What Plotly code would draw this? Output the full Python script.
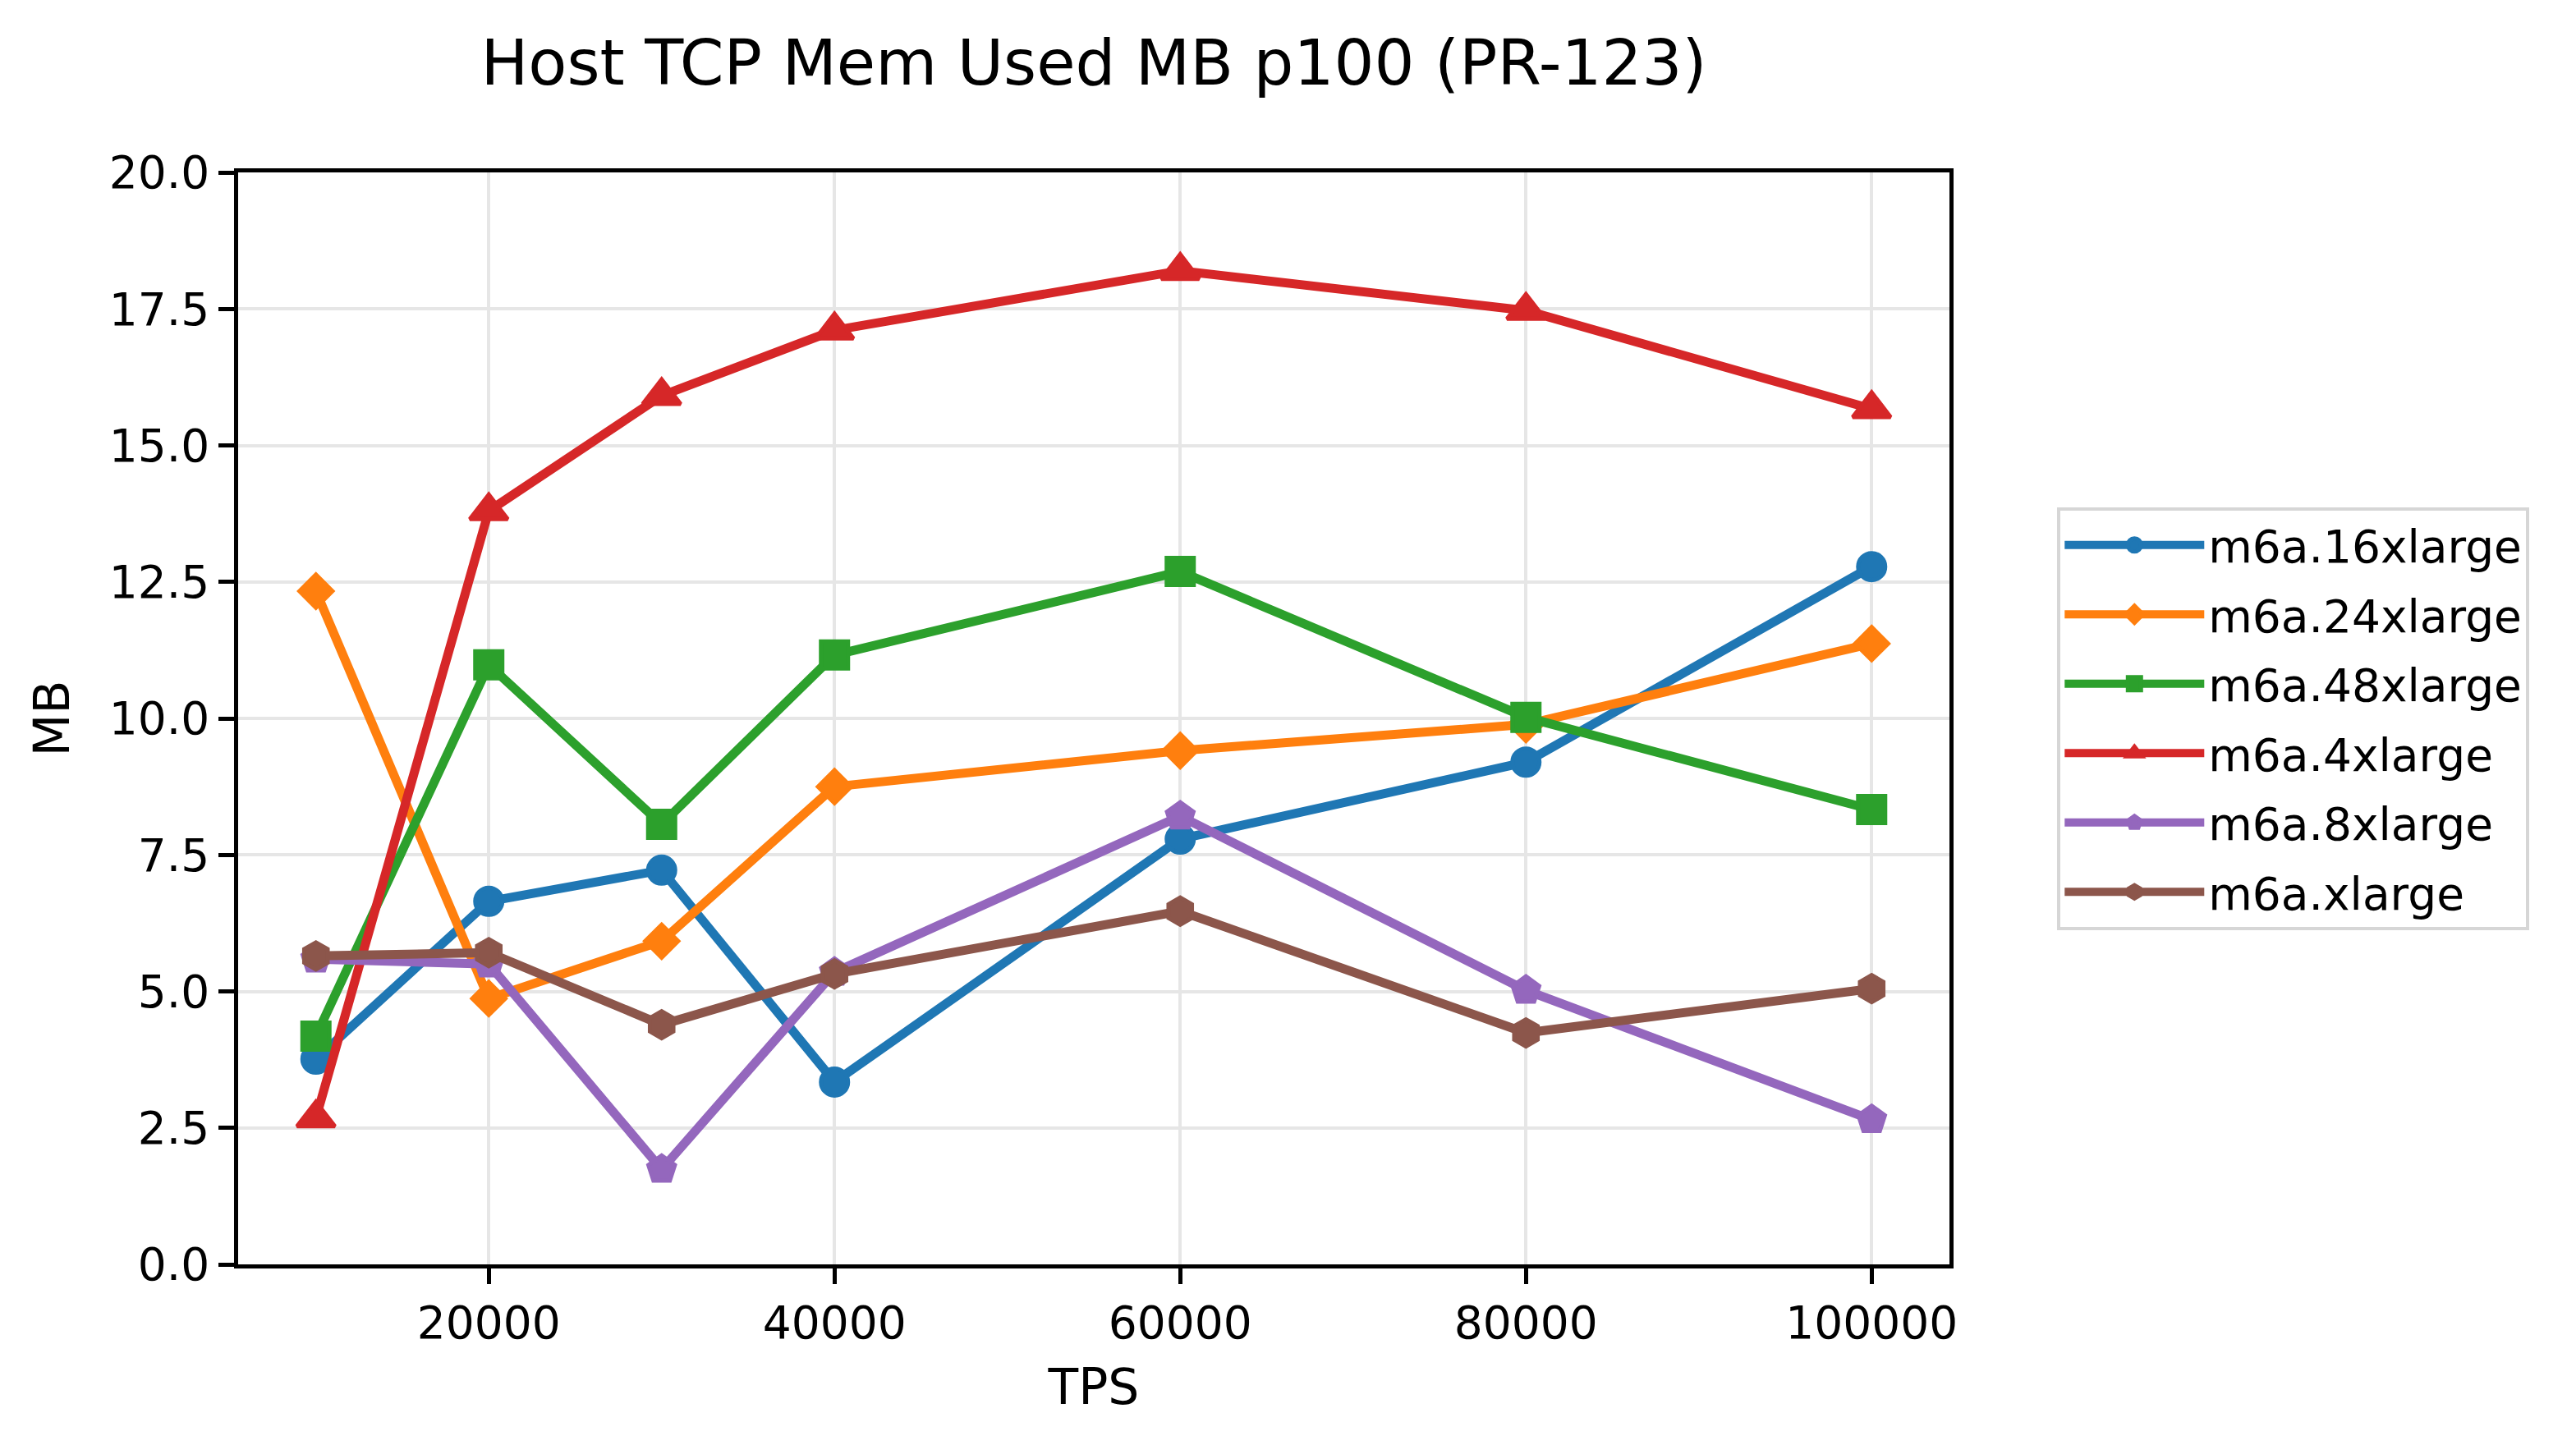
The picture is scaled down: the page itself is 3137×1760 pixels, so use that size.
import plotly.graph_objects as go

tps = [10000, 20000, 30000, 40000, 60000, 80000, 100000]

series_names = ["m6a.16xlarge", "m6a.24xlarge", "m6a.48xlarge", "m6a.4xlarge", "m6a.8xlarge", "m6a.xlarge"]
m6a_16xlarge = [3.76, 6.65, 7.22, 3.34, 7.79, 9.20, 12.78]
m6a_24xlarge = [12.33, 4.87, 5.92, 8.75, 9.41, 9.89, 11.37]
m6a_48xlarge = [4.18, 10.98, 8.06, 11.16, 12.69, 10.02, 8.33]
m6a_4xlarge = [2.68, 13.80, 15.91, 17.11, 18.20, 17.47, 15.67]
m6a_8xlarge = [5.59, 5.50, 1.74, 5.35, 8.21, 5.02, 2.65]
m6a_xlarge = [5.65, 5.71, 4.39, 5.32, 6.47, 4.24, 5.05]

series_values = [m6a_16xlarge, m6a_24xlarge, m6a_48xlarge, m6a_4xlarge, m6a_8xlarge, m6a_xlarge]
colors = ["#1f77b4", "#ff7f0e", "#2ca02c", "#d62728", "#9467bd", "#8c564b"]
symbols = ["circle", "diamond", "square", "triangle-up", "pentagon", "hexagon"]
msizes = [33, 31, 33, 40, 34, 33]

x_ticks = [20000, 40000, 60000, 80000, 100000]
y_ticks = [0, 2.5, 5, 7.5, 10, 12.5, 15, 17.5, 20]

FONT = "DejaVu Sans"

fig = go.Figure()
for name, vals, c, s, ms in zip(series_names, series_values, colors, symbols, msizes):
    fig.add_trace(go.Scatter(
        x=tps, y=vals, name=name, mode="lines+markers", legendgroup=name,
        line=dict(color=c, width=11),
        marker=dict(symbol=s, size=ms, color=c, line=dict(color=c, width=5)),
    ))

axis_common = dict(
    showline=True, linecolor="black", linewidth=4.5, mirror=True,
    ticks="outside", ticklen=19, tickwidth=4.5, tickcolor="black",
    showgrid=True, gridcolor="#e6e6e6", gridwidth=4,
    zeroline=False,
    tickfont=dict(family=FONT, size=55, color="black"),
)

fig.update_layout(
    width=3137, height=1760,
    margin=dict(l=290, r=763, t=210, b=220),
    paper_bgcolor="white", plot_bgcolor="white",
    font=dict(family=FONT, color="black"),
    title=dict(text="Host TCP Mem Used MB p100 (PR-123)", x=(290 + 1042) / 3137, xanchor="center",
               y=1 - 76 / 1760, yanchor="middle",
               font=dict(family=FONT, size=77, color="black")),
    xaxis=dict(range=[5500, 104500], tickvals=x_ticks, tickformat="d",
               title=dict(text="TPS", font=dict(family=FONT, size=60), standoff=28),
               **axis_common),
    yaxis=dict(range=[0, 20], tickvals=y_ticks, tickformat=".1f",
               title=dict(text="MB", font=dict(family=FONT, size=60), standoff=30),
               **axis_common),
    legend=dict(x=1.063, y=0.5, xanchor="left", yanchor="middle",
                bordercolor="#d6d6d6", borderwidth=4, bgcolor="white",
                itemwidth=170, traceorder="grouped", tracegroupgap=10,
                font=dict(family=FONT, size=55, color="black")),
    showlegend=True,
)

fig.write_html("out.html")
